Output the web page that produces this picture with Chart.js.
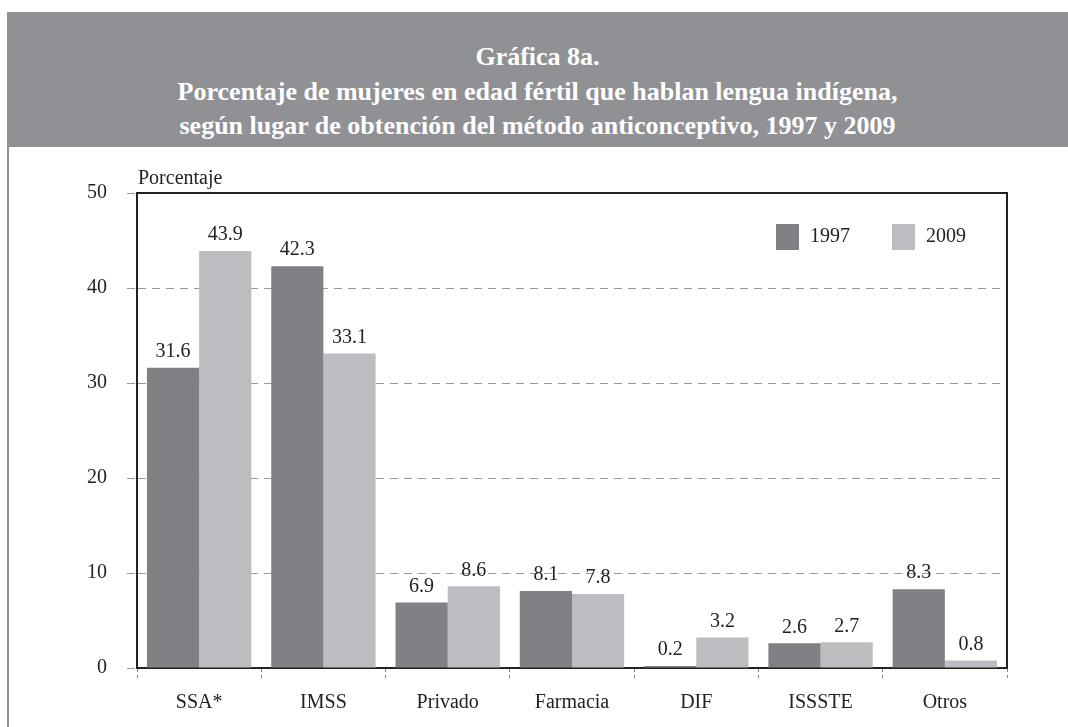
<!DOCTYPE html>
<html>
<head>
<meta charset="utf-8">
<script src="https://cdn.jsdelivr.net/npm/chart.js@4.4.1/dist/chart.umd.min.js"></script>
<style>
  html, body { margin: 0; padding: 0; background: #ffffff; }
  body { width: 1068px; height: 727px; position: relative; overflow: hidden; }
  #header {
    position: absolute; left: 7px; top: 12px; width: 1061px; height: 135px;
    background: #909194; color: #ffffff;
    font-family: "Liberation Serif", "DejaVu Serif", serif; font-weight: bold;
    font-size: 26px; text-align: center; line-height: 34.5px;
    box-sizing: border-box; padding-top: 28px;
  }
  #leftline { position: absolute; left: 7px; top: 147px; width: 2px; height: 580px; background: #909194; }
  #wrap { position: absolute; left: 0; top: 147px; width: 1068px; height: 580px; }
</style>
</head>
<body>
<div id="header">Gráfica 8a.<br>Porcentaje de mujeres en edad fértil que hablan lengua indígena,<br>según lugar de obtención del método anticonceptivo, 1997 y 2009</div>
<div id="leftline"></div>
<div id="wrap"><canvas id="c" width="1068" height="580"></canvas></div>
<script>
const categories = ["SSA*", "IMSS", "Privado", "Farmacia", "DIF", "ISSSTE", "Otros"];
const values1997 = [31.6, 42.3, 6.9, 8.1, 0.2, 2.6, 8.3];
const values2009 = [43.9, 33.1, 8.6, 7.8, 3.2, 2.7, 0.8];
const seriesLabels = ["1997", "2009"];
const yTicks = [0, 10, 20, 30, 40, 50];
const yAxisTitle = "Porcentaje";

const SERIF = '"Liberation Serif", "DejaVu Serif", serif';

const extras = {
  id: 'extras',
  afterDraw(chart) {
    const ctx = chart.ctx;
    const a = chart.chartArea;
    ctx.save();
    // top and right border
    ctx.strokeStyle = '#222';
    ctx.lineWidth = 2;
    ctx.setLineDash([]);
    ctx.beginPath();
    ctx.moveTo(a.left, a.top);
    ctx.lineTo(a.right, a.top);
    ctx.lineTo(a.right, a.bottom);
    ctx.stroke();
    // y title
    ctx.fillStyle = '#222';
    ctx.font = '20px ' + SERIF;
    ctx.textAlign = 'left';
    ctx.textBaseline = 'alphabetic';
    ctx.fillText(yAxisTitle, a.left + 1, a.top - 9);
    // data labels
    ctx.textAlign = 'center';
    ctx.textBaseline = 'bottom';
    ctx.font = '20px ' + SERIF;
    chart.data.datasets.forEach((ds, di) => {
      const meta = chart.getDatasetMeta(di);
      meta.data.forEach((el, i) => {
        ctx.fillText(ds.data[i].toFixed(1), el.x, el.y - 6);
      });
    });
    // legend
    ctx.textAlign = 'left';
    ctx.textBaseline = 'middle';
    ctx.font = '20px ' + SERIF;
    const lx = [a.left + 639, a.left + 755];
    const ly = a.top + 31;
    chart.data.datasets.forEach((ds, di) => {
      ctx.fillStyle = ds.backgroundColor;
      ctx.fillRect(lx[di], ly, 23, 26);
      ctx.fillStyle = '#222';
      ctx.fillText(ds.label, lx[di] + 34, ly + 13);
    });
    ctx.restore();
  }
};

new Chart(document.getElementById('c'), {
  type: 'bar',
  data: {
    labels: categories,
    datasets: [
      { label: seriesLabels[0], data: values1997, backgroundColor: '#808185', borderWidth: 0 },
      { label: seriesLabels[1], data: values2009, backgroundColor: '#bcbdc0', borderWidth: 0 }
    ]
  },
  plugins: [extras],
  options: {
    responsive: false,
    animation: false,
    devicePixelRatio: 1,
    layout: { padding: { top: 46, right: 61, left: 0, bottom: 0 } },
    plugins: { legend: { display: false }, title: { display: false }, tooltip: { enabled: false } },
    datasets: { bar: { categoryPercentage: 0.84, barPercentage: 1.0 } },
    scales: {
      x: {
        afterFit(s) { s.height = 59; },
        grid: { offset: true, drawOnChartArea: false, drawTicks: true, tickLength: 13, color: '#888', lineWidth: 1, tickBorderDash: [3, 3] },
        border: { display: true, color: '#222', width: 2 },
        ticks: { color: '#222', font: { family: SERIF, size: 20 }, padding: 10, maxRotation: 0 }
      },
      y: {
        min: 0, max: 50,
        afterFit(s) { s.width = 137; },
        afterBuildTicks(s) { s.ticks = yTicks.map(v => ({ value: v })); },
        grid: { color: '#999', lineWidth: 1, tickLength: 10, tickColor: '#999', drawTicks: true, tickBorderDash: [8, 6] },
        border: { display: true, color: '#222', width: 2, dash: [8, 6] },
        ticks: { color: '#222', font: { family: SERIF, size: 20 }, padding: 20 }
      }
    }
  }
});
</script>
</body>
</html>
